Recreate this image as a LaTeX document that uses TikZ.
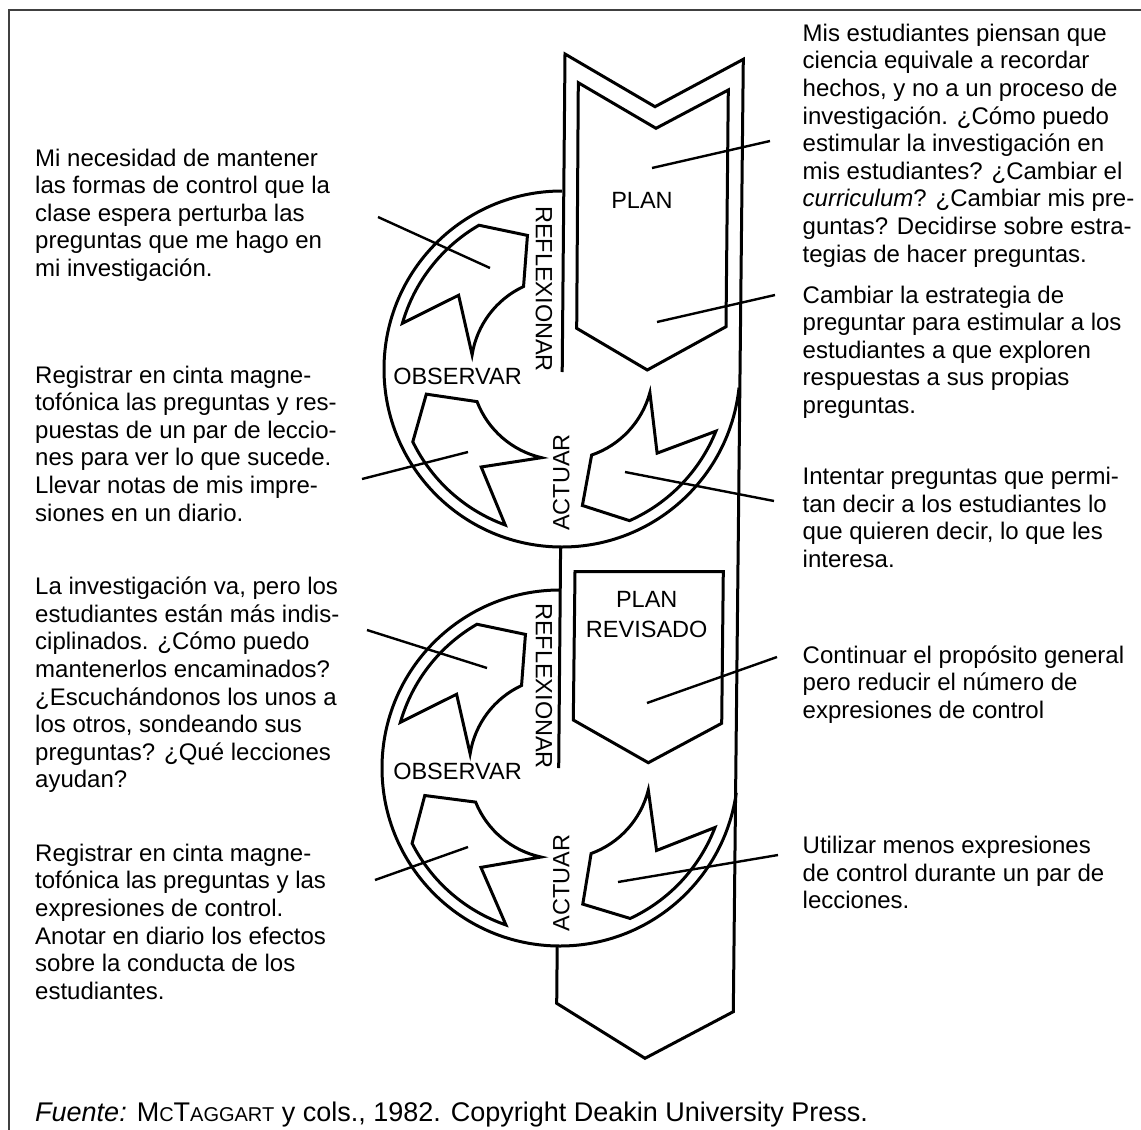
\documentclass[tikz,border=0pt]{standalone}
\usepackage{fontspec}
\setmainfont{Liberation Sans}

\begin{document}
\begin{tikzpicture}[x=1pt,y=-1pt,
  outline/.style={line width=3pt,line join=miter},
  leader/.style={line width=2.4pt},
  notetext/.style={anchor=base west,inner sep=0pt,align=left,
    font=\fontsize{24}{27.6}\selectfont},
  phaselabel/.style={inner sep=0pt,align=center,
    font=\fontsize{23.5}{30}\selectfont},
  cyclearrow/.pic={
    \draw[outline] (#1:166) arc[start angle=#1,end angle=#1+44,radius=166]
      -- ({#1+59.5}:138) -- ({#1+49}:91)
      arc[start angle=#1+49,end angle=#1-7,radius=91]
      -- ({#1+19.5}:127) -- cycle;
  }
]
\useasboundingbox (0,0) rectangle (1141,1130);
\draw[black!75,line width=2pt] (9.3,1130) -- (9.3,10) -- (1141,10);

% big arrow and the two cycles
\coordinate (topc) at (562,369);
\coordinate (botc) at (560,768);
\draw[outline] (562.2,372) -- (565,54) -- (655,106.7) -- (743.3,59.3)
  -- (733.3,1011.7) -- (645,1058.3) -- (556.7,1003.3) -- (557.2,946);
\draw[outline] (560.6,547) -- (558.7,768);
\draw[outline] (topc) ++(270:178) arc[start angle=270,end angle=6,radius=178];
\draw[outline] (botc) ++(270:178) arc[start angle=270,end angle=8,radius=178];
\draw[outline] (578.3,82.7) -- (656,128.3) -- (728.3,90) -- (726,326.7)
  -- (647.3,370) -- (576.7,328.3) -- cycle;
\draw[outline] (575,571.7) -- (723.3,571.7) -- (721.7,723.3)
  -- (648.3,762.7) -- (573.3,720) -- cycle;
\pic at (topc) {cyclearrow=22};
\pic at (topc) {cyclearrow=110};
\pic at (topc) {cyclearrow=196};
\pic at (botc) {cyclearrow=21};
\pic at (botc) {cyclearrow=109};
\pic at (botc) {cyclearrow=196};

\node[phaselabel] (plan) at (642,200) {PLAN};
\node[phaselabel,rotate=-90] (refl) at (544,289) {REFLEXIONAR};
\node[phaselabel] (obs) at (457.5,376) {OBSERVAR};
\node[phaselabel,rotate=90] (act) at (561.3,482.5) {ACTUAR};
\node[phaselabel] (planrev) at (646.7,615) {PLAN\\REVISADO};
\node[phaselabel,rotate=-90] (reflrev) at (544,686) {REFLEXIONAR};
\node[phaselabel] (obsrev) at (457.5,771) {OBSERVAR};
\node[phaselabel,rotate=90] (actrev) at (561.3,883.3) {ACTUAR};

% notes on the left (placed by their last line)
\node[notetext] (necesidad) at (35,276.4) {Mi necesidad de mantener\\
  las formas de control que la\\clase espera perturba las\\
  preguntas que me hago en\\mi investigación.};
\node[notetext] (registrar) at (35,521) {Registrar en cinta magne-\\
  tofónica las preguntas y res-\\puestas de un par de leccio-\\
  nes para ver lo que sucede.\\Llevar notas de mis impre-\\
  siones en un diario.};
\node[notetext] (indisc) at (35,787.9) {La investigación va, pero los\\
  estudiantes están más indis-\\ciplinados. ¿Cómo puedo\\
  mantenerlos encaminados?\\¿Escuchándonos los unos a\\
  los otros, sondeando sus\\preguntas? ¿Qué lecciones\\ayudan?};
\node[notetext] (registrarrev) at (35,999.3) {Registrar en cinta magne-\\
  tofónica las preguntas y las\\expresiones de control.\\
  Anotar en diario los efectos\\sobre la conducta de los\\
  estudiantes.};

% notes on the right
\node[notetext] (ciencia) at (802.5,262.1) {Mis estudiantes piensan que\\
  ciencia equivale a recordar\\hechos, y no a un proceso de\\
  investigación. ¿Cómo puedo\\estimular la investigación en\\
  mis estudiantes? ¿Cambiar el\\\textit{curriculum}? ¿Cambiar mis pre-\\
  guntas? Decidirse sobre estra-\\tegias de hacer preguntas.};
\node[notetext] (estrategia) at (802.5,413.4) {Cambiar la estrategia de\\
  preguntar para estimular a los\\estudiantes a que exploren\\
  respuestas a sus propias\\preguntas.};
\node[notetext] (intentar) at (802.5,567.5) {Intentar preguntas que permi-\\
  tan decir a los estudiantes lo\\que quieren decir, lo que les\\
  interesa.};
\node[notetext] (continuar) at (802.5,718.2) {Continuar el propósito general\\
  pero reducir el número de\\expresiones de control};
\node[notetext] (utilizar) at (802.5,908.9) {Utilizar menos expresiones\\
  de control durante un par de\\lecciones.};

\node[notetext,font=\fontsize{27}{30}\selectfont] (fuente) at (35,1121)
  {\textit{Fuente:} M{\fontsize{20}{22}\selectfont C}T{\fontsize{20}{22}\selectfont
  AGGART} y cols., 1982. Copyright Deakin University Press.};

% leader lines
\coordinate (necesidadA) at (378,217);  \coordinate (necesidadB) at (490,268);
\coordinate (registrarA) at (362,479);  \coordinate (registrarB) at (468,452);
\coordinate (cienciaA) at (652,168);    \coordinate (cienciaB) at (770,141);
\coordinate (estrategiaA) at (657,322); \coordinate (estrategiaB) at (775,295);
\coordinate (intentarA) at (625,472);   \coordinate (intentarB) at (774,501);
\coordinate (indiscA) at (367,630);     \coordinate (indiscB) at (487,668);
\coordinate (registrarrevA) at (375,880); \coordinate (registrarrevB) at (468,847);
\coordinate (continuarA) at (647,703);  \coordinate (continuarB) at (777,657);
\coordinate (utilizarA) at (618,882);   \coordinate (utilizarB) at (778,855);
\draw[leader] (necesidadA) -- (necesidadB);
\draw[leader] (registrarA) -- (registrarB);
\draw[leader] (cienciaA) -- (cienciaB);
\draw[leader] (estrategiaA) -- (estrategiaB);
\draw[leader] (intentarA) -- (intentarB);
\draw[leader] (indiscA) -- (indiscB);
\draw[leader] (registrarrevA) -- (registrarrevB);
\draw[leader] (continuarA) -- (continuarB);
\draw[leader] (utilizarA) -- (utilizarB);
\end{tikzpicture}
\end{document}
